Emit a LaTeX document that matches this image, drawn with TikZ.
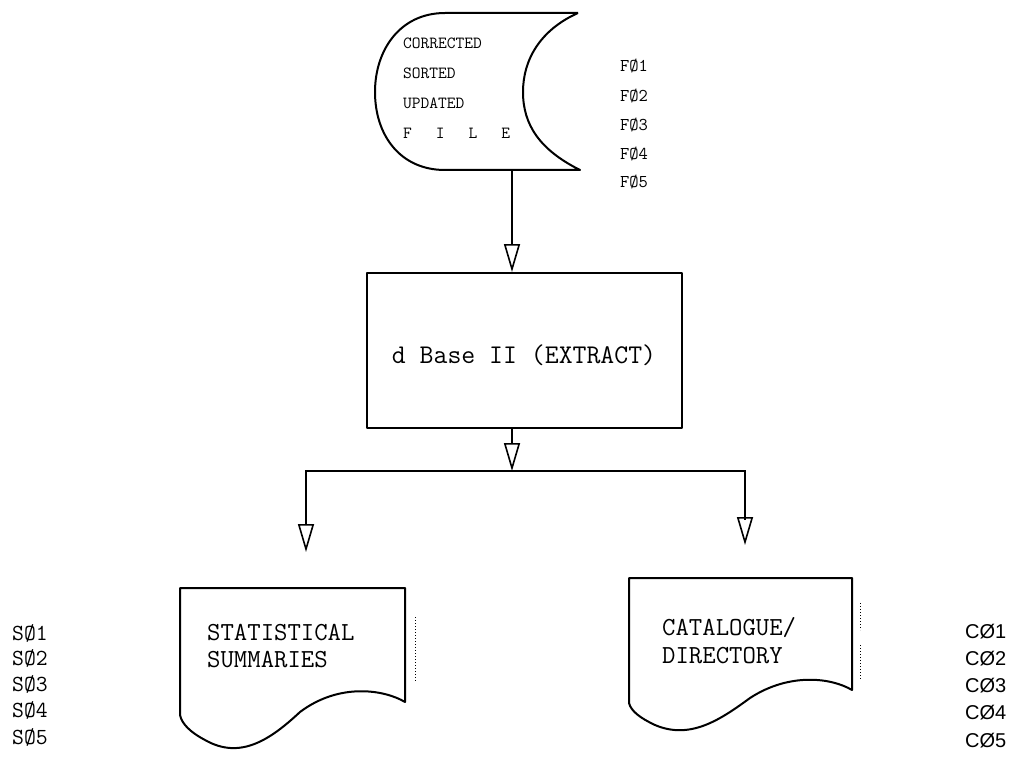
\documentclass[tikz,border=0pt]{standalone}
\usepackage{fontspec}
\usetikzlibrary{arrows.meta}
\newfontfamily\csans{Liberation Sans}
\begin{document}
\begin{tikzpicture}[x=1pt,y=-1pt,
  outl/.style={line width=2pt, line join=round},
  arr/.style={line width=2pt, -{Triangle[open,length=28pt,width=16pt,line width=1.6pt]}},
  conn/.style={line width=2pt},
  lbl/.style={font=\ttfamily\fontsize{18}{18}\selectfont, inner sep=0pt, anchor=west},
  slbl/.style={font=\ttfamily\fontsize{23}{23}\selectfont, inner sep=0pt, anchor=west},
  clbl/.style={font=\csans\fontsize{20}{20}\selectfont, inner sep=0pt, anchor=west},
  ftxt/.style={font=\ttfamily\fontsize{17}{17}\selectfont, inner sep=0pt, anchor=west},
  dtxt/.style={font=\ttfamily\fontsize{26}{26}\selectfont, inner sep=0pt, anchor=west},
  perf/.style={line width=1pt, dotted}]
\useasboundingbox (0,0) rectangle (1017,778);

% stored data file
\node[minimum width=205pt, minimum height=157pt, inner sep=0pt] (sfile) at (477.5,91.5) {};
\draw[outl] (578,13) -- (445,13) .. controls (400,13) and (375,50) .. (375,92)
  .. controls (375,135) and (400,170) .. (445,170) -- (580,170)
  .. controls (540,150) and (523,125) .. (523,92)
  .. controls (523,60) and (540,30) .. (578,13);
\node[ftxt] (t1) at (403,43) {CORRECTED};
\node[ftxt] (t2) at (403,73) {SORTED};
\node[ftxt] (t3) at (403,103) {UPDATED};
\node[ftxt] (t4) at (403,133) {F\hspace{24pt}I\hspace{24pt}L\hspace{24pt}E};

\node[lbl] (f1) at (620,66) {FØ1};
\node[lbl] (f2) at (620,96) {FØ2};
\node[lbl] (f3) at (620,125) {FØ3};
\node[lbl] (f4) at (620,154) {FØ4};
\node[lbl] (f5) at (620,182) {FØ5};

% process box
\node[draw, outl, minimum width=315pt, minimum height=155pt, inner sep=0pt] (box) at (524.5,350.5) {};
\node[font=\ttfamily\fontsize{27}{27}\selectfont, inner sep=0pt] (boxt) at (524,355) {d Base II (EXTRACT)};

\coordinate (fbot) at (512,170);
\draw[arr] (fbot) -- (fbot |- box.north);

\coordinate (j) at (512,471);
\coordinate (bbot) at (512,428);
\draw[arr] (bbot) -- (j);
\coordinate (lend) at (306,552);
\coordinate (rend) at (745,545);
\draw[conn] (j) -| (306,520);
\draw[conn] (j) -| (745,520);
\draw[arr] (306,471) -- (lend);
\draw[arr] (745,471) -- (rend);

% left document
\node[minimum width=225pt, minimum height=114pt, inner sep=0pt] (ldoc) at (292.5,645) {};
\draw[outl] (180,715) -- (180,588) -- (405,588) -- (405,702)
  .. controls (385,690) and (340,682) .. (300,712)
  .. controls (270,740) and (240,760) .. (205,740)
  .. controls (190,732) and (182,724) .. (180,715);
\draw[perf] (415,617) -- (415,682);
\node[dtxt] (s1t) at (207,633) {STATISTICAL};
\node[dtxt] (s2t) at (207,660) {SUMMARIES};

% right document
\node[minimum width=223pt, minimum height=112pt, inner sep=0pt] (rdoc) at (740.5,634) {};
\draw[outl] (629,703) -- (629,578) -- (852,578) -- (852,690)
  .. controls (832,678) and (790,672) .. (750,698)
  .. controls (720,720) and (690,740) .. (655,725)
  .. controls (640,718) and (631,711) .. (629,703);
\draw[perf] (860,603) -- (860,630);
\draw[perf] (860,645) -- (860,680);
\node[dtxt] (c1t) at (662,628) {CATALOGUE/};
\node[dtxt] (c2t) at (662,656) {DIRECTORY};

\node[slbl] (s1) at (12,633) {SØ1};
\node[slbl] (s2) at (12,658) {SØ2};
\node[slbl] (s3) at (12,684) {SØ3};
\node[slbl] (s4) at (12,710) {SØ4};
\node[slbl] (s5) at (12,737) {SØ5};

\node[clbl] (c1) at (965,632) {CØ1};
\node[clbl] (c2) at (965,659) {CØ2};
\node[clbl] (c3) at (965,686) {CØ3};
\node[clbl] (c4) at (965,713) {CØ4};
\node[clbl] (c5) at (965,741) {CØ5};
\end{tikzpicture}
\end{document}
